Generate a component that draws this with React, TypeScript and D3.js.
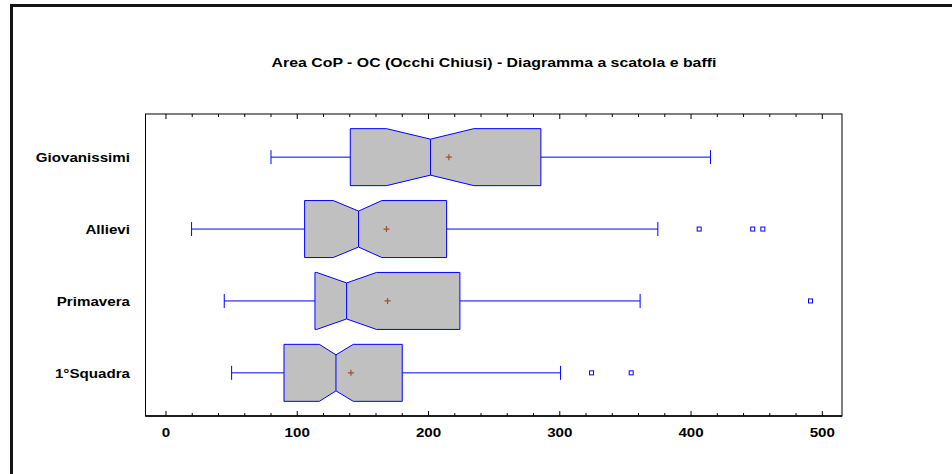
import { useEffect, useRef } from 'react'
import * as d3 from 'd3'

const categories = ['Giovanissimi', 'Allievi', 'Primavera', '1°Squadra']
const whiskerLow = [80, 19.5, 44.4, 50]
const q1 = [140.4, 105.6, 113.5, 89.9]
const notchLow = [168, 127.4, 114.8, 116.8]
const median = [201.5, 146.7, 137.6, 129.5]
const notchHigh = [234.6, 164.5, 160.4, 142.7]
const q3 = [285.6, 213.8, 223.9, 180]
const whiskerHigh = [414.8, 374.7, 361.2, 300.6]
const mean = [215.5, 168, 168.8, 140.9]
const outliers = [[], [406.2, 447, 454.7], [491], [324.2, 354.4]]

const majorTicks = [0, 100, 200, 300, 400, 500]
const minorTicks = d3.range(0, 501, 20)
const title = 'Area CoP - OC (Occhi Chiusi) - Diagramma a scatola e baffi'

const App = () => {
  const ref = useRef(null)

  useEffect(() => {
    const width = 952
    const height = 474
    const plot = { left: 145.5, right: 842, top: 114, bottom: 416 }
    const font = '"Liberation Sans", Arial, sans-serif'
    const stretch = 'scale(1.165,1)'
    const blue = '#0000ff'

    const svg = d3.select(ref.current)
    svg.selectAll('*').remove()
    svg.attr('width', width).attr('height', height)

    svg.append('rect').attr('width', width).attr('height', height).attr('fill', '#fff')

    // outer frame (runs past the picture edge on right and bottom)
    svg.append('rect')
       .attr('x', 11.5).attr('y', 5.5)
       .attr('width', width).attr('height', height)
       .attr('fill', 'none').attr('stroke', '#151515').attr('stroke-width', 3)

    const x = d3.scaleLinear().domain([-15.6, 515]).range([plot.left, plot.right])
    const y = d3.scalePoint().domain(categories).range([plot.top, plot.bottom]).padding(0.6)

    svg.append('g')
       .attr('transform', `translate(494,67) scale(1.22,1)`)
       .append('text')
       .attr('text-anchor', 'middle')
       .attr('font-family', font).attr('font-weight', 'bold').attr('font-size', 13)
       .text(title)

    // plot frame
    svg.append('rect')
       .attr('x', plot.left).attr('y', plot.top)
       .attr('width', plot.right - plot.left).attr('height', plot.bottom - plot.top)
       .attr('fill', 'none').attr('stroke', '#000').attr('stroke-width', 1)
    svg.append('line')
       .attr('x1', plot.left).attr('x2', plot.right)
       .attr('y1', plot.bottom).attr('y2', plot.bottom)
       .attr('stroke', '#000').attr('stroke-width', 1.6)

    // inward ticks top and bottom
    const ticks = svg.append('g').attr('stroke', '#000').attr('stroke-width', 1)
    minorTicks.forEach(t => {
      const len = majorTicks.includes(t) ? 5 : 3
      ticks.append('line').attr('x1', x(t)).attr('x2', x(t))
           .attr('y1', plot.top).attr('y2', plot.top + len)
      ticks.append('line').attr('x1', x(t)).attr('x2', x(t))
           .attr('y1', plot.bottom).attr('y2', plot.bottom - len)
    })

    majorTicks.forEach(t => {
      svg.append('g')
         .attr('transform', `translate(${x(t)},${plot.bottom + 20.5}) ${stretch}`)
         .append('text')
         .attr('text-anchor', 'middle')
         .attr('font-family', font).attr('font-weight', 'bold').attr('font-size', 13)
         .text(t)
    })

    categories.forEach(c => {
      svg.append('g')
         .attr('transform', `translate(130,${y(c) + 4.7}) ${stretch}`)
         .append('text')
         .attr('text-anchor', 'end')
         .attr('font-family', font).attr('font-weight', 'bold').attr('font-size', 13)
         .text(c)
    })

    const boxH = 28.5
    const notchH = 18
    const capH = 7

    categories.forEach((c, i) => {
      const cy = y(c)
      const g = svg.append('g')

      // whiskers
      g.append('line').attr('x1', x(whiskerLow[i])).attr('x2', x(q1[i]))
       .attr('y1', cy).attr('y2', cy).attr('stroke', blue)
      g.append('line').attr('x1', x(q3[i])).attr('x2', x(whiskerHigh[i]))
       .attr('y1', cy).attr('y2', cy).attr('stroke', blue)
      ;[whiskerLow[i], whiskerHigh[i]].forEach(v => {
        g.append('line').attr('x1', x(v)).attr('x2', x(v))
         .attr('y1', cy - capH).attr('y2', cy + capH).attr('stroke', blue)
      })

      // notched box
      const nl = Math.max(notchLow[i], q1[i])
      const nh = Math.min(notchHigh[i], q3[i])
      const pts = [
        [x(q1[i]), cy - boxH], [x(nl), cy - boxH], [x(median[i]), cy - notchH],
        [x(nh), cy - boxH], [x(q3[i]), cy - boxH], [x(q3[i]), cy + boxH],
        [x(nh), cy + boxH], [x(median[i]), cy + notchH], [x(nl), cy + boxH],
        [x(q1[i]), cy + boxH]
      ]
      g.append('path')
       .attr('d', d3.line()(pts) + 'Z')
       .attr('fill', '#c0c0c0').attr('stroke', blue).attr('stroke-width', 1)
       .attr('stroke-linejoin', 'miter')
      g.append('line').attr('x1', x(median[i])).attr('x2', x(median[i]))
       .attr('y1', cy - notchH).attr('y2', cy + notchH).attr('stroke', blue)

      // mean
      const mx = x(mean[i])
      g.append('path')
       .attr('d', `M${mx - 3},${cy}H${mx + 3}M${mx},${cy - 3}V${cy + 3}`)
       .attr('stroke', '#a0522d').attr('stroke-width', 1.2)

      // outside points
      outliers[i].forEach(v => {
        g.append('rect')
         .attr('x', x(v) - 2).attr('y', cy - 2)
         .attr('width', 4).attr('height', 4)
         .attr('fill', '#fff').attr('stroke', blue).attr('stroke-width', 1)
      })
    })
  }, [])

  return <svg ref={ref} style={{ position: 'absolute', left: 0, top: 0 }}></svg>
}

export default App
